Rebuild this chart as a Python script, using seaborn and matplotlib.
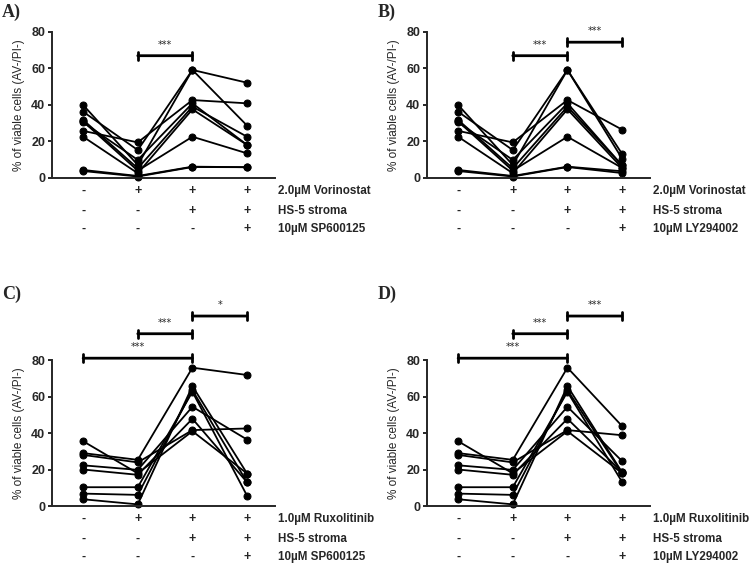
import pandas as pd
import seaborn as sns
import matplotlib.pyplot as plt

# x positions: control, drug, drug + stroma, drug + stroma + inhibitor
positions = [0, 1, 2, 3]

# vorinostat experiments (panels A, B) - one value per patient sample
vor_ctrl = [40.0, 36.3, 31.8, 30.5, 25.8, 22.6, 31.0, 4.4, 3.8]
vor_drug = [7.1, 15.3, 5.3, 9.9, 19.5, 2.6, 4.0, 1.1, 0.8]
vor_stroma = [59.2, 59.2, 39.1, 40.9, 42.7, 37.6, 22.6, 6.2, 6.0]
vor_sp = [28.7, 52.2, 22.6, 18.1, 40.9, 18.1, 13.5, 5.9, 5.9]
vor_ly = [13.2, 10.6, 6.9, 6.9, 26.5, 5.5, 5.5, 3.7, 2.7]

# ruxolitinib experiments (panels C, D)
rux_ctrl = [35.5, 29.0, 28.0, 22.3, 20.0, 10.3, 6.8, 3.7]
rux_drug = [17.9, 25.3, 23.9, 19.8, 17.1, 10.3, 6.1, 0.9]
rux_stroma = [41.0, 75.8, 41.6, 54.4, 47.8, 62.6, 63.5, 65.7]
rux_sp = [17.8, 71.8, 42.5, 36.4, 13.0, 5.6, 13.0, 17.8]
rux_ly = [18.0, 43.8, 38.8, 24.6, 18.5, 13.2, 18.0, 18.5]

row_signs = [["-", "+", "+", "+"], ["-", "-", "+", "+"], ["-", "-", "-", "+"]]

# significance brackets: (from, to, height, stars)
sig_a = [(1, 2, 67.0, "***")]
sig_b = [(1, 2, 67.0, "***"), (2, 3, 74.4, "***")]
sig_c = [(0, 2, 81.0, "***"), (1, 2, 94.4, "***"), (2, 3, 104.1, "*")]
sig_d = [(0, 2, 81.0, "***"), (1, 2, 94.4, "***"), (2, 3, 104.1, "***")]

panels = [
    ("A)", [vor_ctrl, vor_drug, vor_stroma, vor_sp],
     ["2.0\u00b5M Vorinostat", "HS-5 stroma", "10\u00b5M SP600125"], sig_a),
    ("B)", [vor_ctrl, vor_drug, vor_stroma, vor_ly],
     ["2.0\u00b5M Vorinostat", "HS-5 stroma", "10\u00b5M LY294002"], sig_b),
    ("C)", [rux_ctrl, rux_drug, rux_stroma, rux_sp],
     ["1.0\u00b5M Ruxolitinib", "HS-5 stroma", "10\u00b5M SP600125"], sig_c),
    ("D)", [rux_ctrl, rux_drug, rux_stroma, rux_ly],
     ["1.0\u00b5M Ruxolitinib", "HS-5 stroma", "10\u00b5M LY294002"], sig_d),
]

sns.set_style("ticks")
plt.rcParams["font.family"] = ["Liberation Sans", "DejaVu Sans"]
plt.rcParams["axes.linewidth"] = 1.4

fig = plt.figure(figsize=(7.5, 5.65), dpi=100)

# axes boxes in figure fractions (left, bottom, width, height)
boxes = [
    (0.0693, 0.685, 0.2973, 0.2584),
    (0.5693, 0.685, 0.2973, 0.2584),
    (0.0693, 0.1044, 0.2973, 0.2584),
    (0.5693, 0.1044, 0.2973, 0.2584),
]
letter_pos = [(0.003, 0.993), (0.503, 0.993), (0.003, 0.495), (0.503, 0.495)]

for (letter, cols, labels, sigs), box, lp in zip(panels, boxes, letter_pos):
    ax = fig.add_axes(box)
    rows = []
    for pos, vals in zip(positions, cols):
        for subj, v in enumerate(vals):
            rows.append({"subject": subj, "pos": pos, "value": v})
    df = pd.DataFrame(rows)

    sns.lineplot(data=df, x="pos", y="value", units="subject", estimator=None,
                 color="black", lw=1.3, marker="o", markersize=5,
                 markeredgecolor="black", ax=ax, clip_on=False)

    ax.set_xlim(-0.57, 3.51)
    ax.set_ylim(0, 80)
    ax.set_yticks([0, 20, 40, 60, 80])
    ax.set_xticks([])
    ax.set_xlabel("")
    ax.set_ylabel("% of viable cells (AV-/PI-)", fontsize=8.5, labelpad=4)
    ax.tick_params(axis="y", length=3, width=1.4, pad=2, labelsize=9)
    for t in ax.get_yticklabels():
        t.set_fontweight("bold")
    sns.despine(ax=ax)

    # treatment table under the x axis
    offsets = [9.4, 23.8, 36.7]
    for signs, lab, off in zip(row_signs, labels, offsets):
        for pos, s in zip(positions, signs):
            ax.annotate(s, xy=(pos, 0), xycoords=("data", "axes fraction"),
                        xytext=(0, -off), textcoords="offset points",
                        ha="center", va="center", fontsize=9, fontweight="bold")
        ax.annotate(lab, xy=(1, 0), xycoords="axes fraction",
                    xytext=(2.5, -off), textcoords="offset points",
                    ha="left", va="center", fontsize=8.4, fontweight="bold")

    # significance brackets
    for x0, x1, y, stars in sigs:
        ax.annotate("", xy=(x0, y), xytext=(x1, y),
                    arrowprops=dict(arrowstyle="|-|,widthA=0.28,widthB=0.28",
                                    lw=2.0, color="black", shrinkA=0, shrinkB=0),
                    annotation_clip=False)
        ax.text((x0 + x1) / 2, y + 3.2, stars, ha="center", va="bottom",
                fontsize=7, family=["DejaVu Sans"])

    fig.text(lp[0], lp[1], letter, ha="left", va="top", fontsize=13,
             fontweight="bold", family=["Liberation Serif", "DejaVu Serif"])

fig.savefig("out.png", dpi=100)
